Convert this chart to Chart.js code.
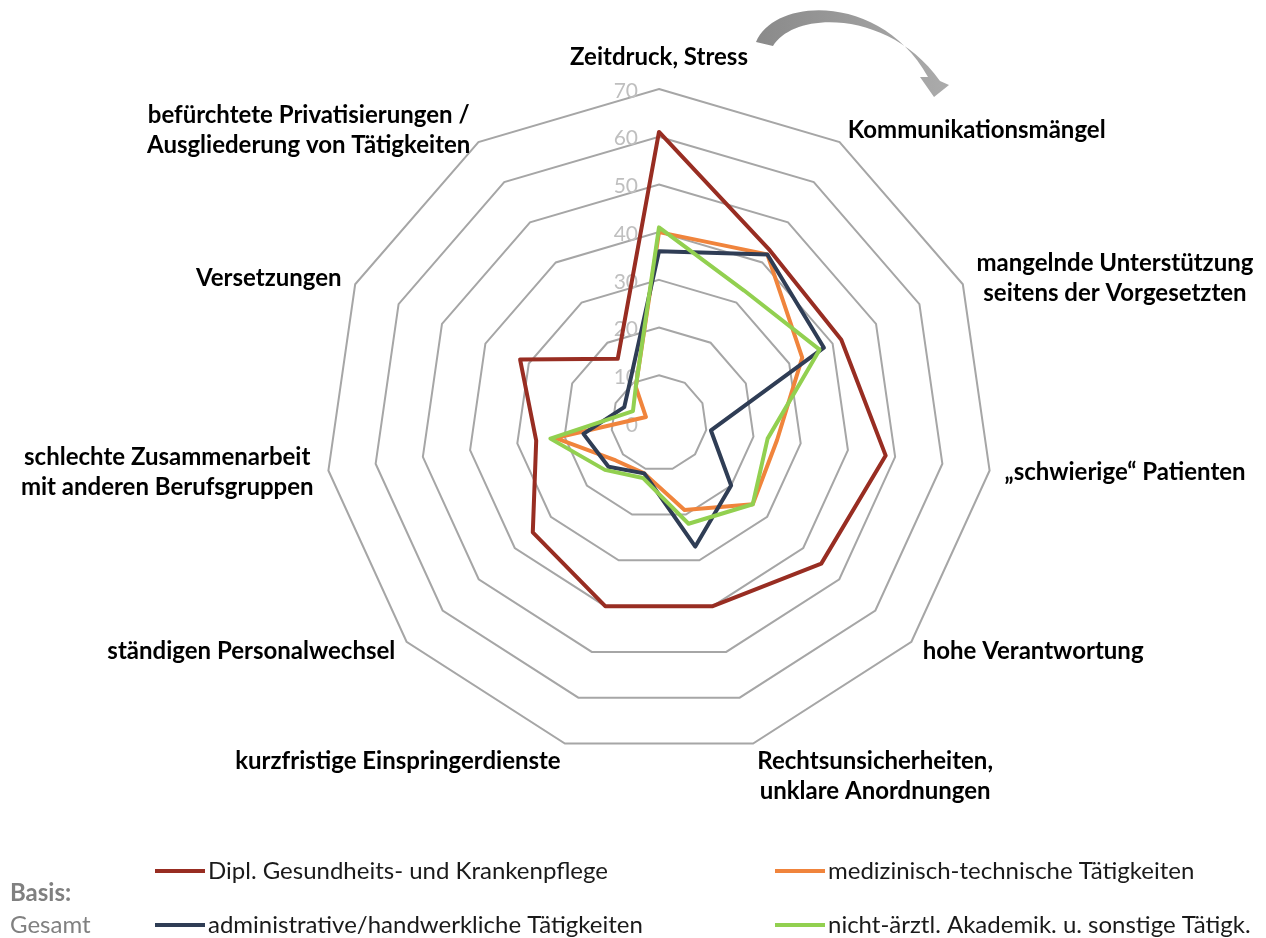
<!DOCTYPE html>
<html lang="de">
<head>
<meta charset="utf-8">
<title>Belastungen nach Berufsgruppen</title>
<script src="https://cdn.jsdelivr.net/npm/chart.js@4.4.1/dist/chart.umd.min.js"></script>
<style>
    html, body { margin: 0; padding: 0; background: #ffffff; }
    #wrap { width: 1266px; height: 938px; position: relative; }
</style>
</head>
<body>
<div id="wrap"><canvas id="radarChart" width="1266" height="938"></canvas></div>
<script>
const categories = [
    "Zeitdruck, Stress",
    "Kommunikationsmängel",
    ["mangelnde Unterstützung", "seitens der Vorgesetzten"],
    "„schwierige“ Patienten",
    "hohe Verantwortung",
    ["Rechtsunsicherheiten,", "unklare Anordnungen"],
    "kurzfristige Einspringerdienste",
    "ständigen Personalwechsel",
    ["schlechte Zusammenarbeit", "mit anderen Berufsgruppen"],
    "Versetzungen",
    ["befürchtete Privatisierungen /", "Ausgliederung von Tätigkeiten"]
];

const tickValues = [0, 10, 20, 30, 40, 50, 60, 70];

const seriesNames = [
    "Dipl. Gesundheits- und Krankenpflege",
    "medizinisch-technische Tätigkeiten",
    "administrative/handwerkliche Tätigkeiten",
    "nicht-ärztl. Akademik. u. sonstige Tätigk."
];

const pflege = [61, 43, 42, 48, 45, 40, 40, 35, 26, 32, 16];
const medTechnik = [40, 42, 33, 25, 26, 19, 11, 12, 22, 3, 9];
const verwaltung = [36, 42, 38, 11, 20, 27, 11, 14, 16, 8, 11];
const akademik = [41, 33, 37, 23, 26, 22, 12, 15, 23, 6, 9];

const seriesColors = ["#982d22", "#f0843c", "#2f3d55", "#92d050"];

const textFont = "Lato, sans-serif";

// tick numbers, category labels, legend and the arrow are painted here
const decorations = {

    id: "decorations",

    beforeDatasetsDraw(chart) {

        const scale = chart.scales.r;
        const ctx = chart.ctx;

        ctx.save();
        ctx.font = "21px " + textFont;
        ctx.fillStyle = "#bfbfbf";
        ctx.textAlign = "right";
        ctx.textBaseline = "middle";

        tickValues.forEach(value => {
            const d = scale.getDistanceFromCenterForValue(value);
            ctx.fillText(String(value), scale.xCenter - 21, scale.yCenter - d + 2);
        });

        ctx.restore();
    },

    afterDraw(chart) {

        const scale = chart.scales.r;
        const ctx = chart.ctx;
        const n = categories.length;
        const lineH = 30;

        ctx.save();

        // category labels
        ctx.font = "bold 24px " + textFont;
        ctx.fillStyle = "#000000";
        ctx.textAlign = "center";
        ctx.textBaseline = "middle";

        categories.forEach((label, i) => {

            const lines = Array.isArray(label) ? label : [label];
            const p = scale.getPointPositionForValue(i, scale.max);
            const angle = 2 * Math.PI * i / n;
            const s = Math.sin(angle);
            const c = Math.cos(angle);
            const blockH = lines.length * lineH;
            const w = Math.max(...lines.map(l => ctx.measureText(l).width));

            let cx;
            let top;

            if (i === 0) {
                cx = p.x;
                top = p.y - 17 - blockH;
            } else {
                const gap = 15 * Math.abs(s);
                cx = s > 0 ? p.x + gap + w / 2 : p.x - gap - w / 2;
                top = Math.abs(c) > 0.9 ? p.y + 3 : p.y - c * 14 - blockH / 2;
            }

            lines.forEach((l, j) => {
                ctx.fillText(l, cx, top + lineH * (j + 0.5));
            });
        });

        // legend
        const slots = [[155, 871], [775, 871], [155, 925], [775, 925]];

        ctx.font = "24px " + textFont;
        ctx.textAlign = "left";
        ctx.lineWidth = 4;

        seriesNames.forEach((name, i) => {
            const [x, y] = slots[i];
            ctx.strokeStyle = seriesColors[i];
            ctx.beginPath();
            ctx.moveTo(x, y);
            ctx.lineTo(x + 50, y);
            ctx.stroke();
            ctx.fillStyle = "#1a1a1a";
            ctx.fillText(name, x + 53, y);
        });

        ctx.fillStyle = "#808080";
        ctx.font = "bold 24px " + textFont;
        ctx.fillText("Basis:", 10, 893);
        ctx.font = "24px " + textFont;
        ctx.fillText("Gesamt", 10, 925);

        // curved arrow (clockwise reading direction)
        const grad = ctx.createLinearGradient(757, 0, 948, 0);
        grad.addColorStop(0, "#8a8a8a");
        grad.addColorStop(1, "#ababab");
        ctx.fillStyle = grad;
        ctx.beginPath();
        ctx.moveTo(756, 42);
        ctx.bezierCurveTo(776, -4, 882, -6, 928, 77);
        ctx.lineTo(920, 77);
        ctx.lineTo(934, 97);
        ctx.lineTo(949, 85);
        ctx.lineTo(940, 81);
        ctx.bezierCurveTo(890, 10, 795, 10, 773, 46);
        ctx.closePath();
        ctx.fill();

        ctx.restore();
    }
};

const datasets = [pflege, medTechnik, verwaltung, akademik].map((values, i) => ({
    label: seriesNames[i],
    data: values,
    borderColor: seriesColors[i],
    backgroundColor: seriesColors[i],
    order: 4 - i
}));

new Chart(document.getElementById("radarChart"), {

    type: "radar",

    data: {
        labels: categories,
        datasets: datasets
    },

    options: {

        responsive: false,
        animation: false,

        layout: {
            padding: { left: 52, right: 0, top: 89, bottom: 181 }
        },

        plugins: {
            legend: { display: false },
            tooltip: { enabled: false }
        },

        elements: {
            line: { borderWidth: 4, tension: 0, fill: false, borderJoinStyle: "round" },
            point: { radius: 0, hoverRadius: 0 }
        },

        scales: {
            r: {
                min: 0,
                max: 70,
                ticks: { stepSize: 10, display: false },
                grid: { color: "#a6a6a6", lineWidth: 2, circular: false },
                angleLines: { display: false },
                pointLabels: { display: false }
            }
        }
    },

    plugins: [decorations]
});
</script>
</body>
</html>
